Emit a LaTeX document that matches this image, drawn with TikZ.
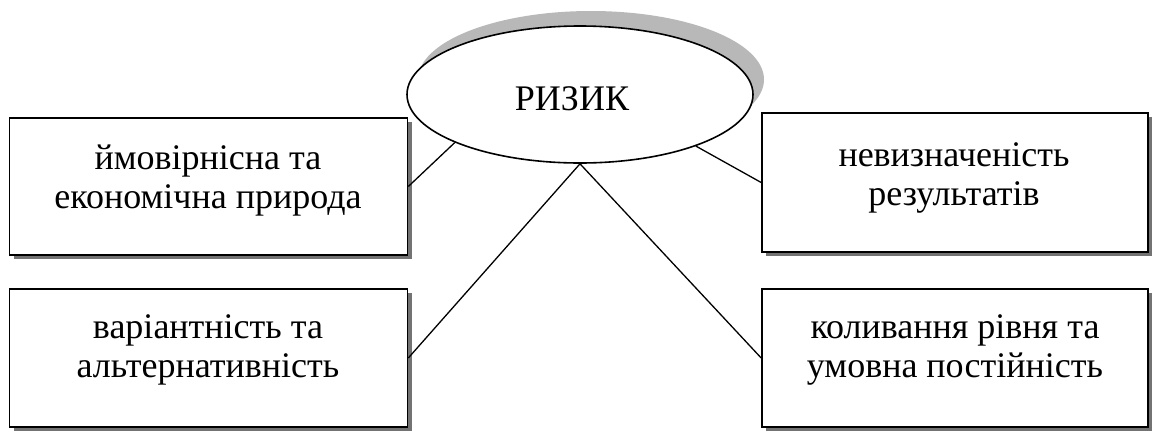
\documentclass[tikz,border=0pt]{standalone}
\usepackage{fontspec}
\setmainfont{Liberation Serif}
\usetikzlibrary{shapes.geometric,shadows}

\tikzset{
  box/.style={draw, line width=1.6pt, fill=white, rectangle, inner sep=0pt,
    drop shadow={shadow xshift=4pt, shadow yshift=-4pt, fill=black!55, opacity=1}},
  oval/.style={draw, line width=1.6pt, fill=white, ellipse, inner sep=0pt,
    minimum width=346pt, minimum height=137pt,
    drop shadow={shadow xshift=11pt, shadow yshift=15pt, fill=black!28, opacity=1}},
  txt/.style={align=center, font=\fontsize{36}{42}\selectfont, inner sep=0pt},
  link/.style={line width=1.3pt},
}

\begin{document}
\begin{tikzpicture}[x=1pt, y=-1pt]
  \useasboundingbox (0,0) rectangle (1157,432);

  % central concept
  \node[oval] (risk) at (580,94.5) {};
  \node[txt, anchor=base] (risklbl) at (572,110) {РИЗИК};

  % four feature boxes
  \node[box, minimum width=398pt, minimum height=137pt] (tl) at (208.5,186.5) {};
  \node[box, minimum width=398pt, minimum height=138pt] (bl) at (208.5,358) {};
  \node[box, minimum width=386pt, minimum height=139pt] (tr) at (955,182.5) {};
  \node[box, minimum width=386pt, minimum height=138pt] (br) at (955,358) {};

  \node[txt, anchor=base] (tl1) at (208,169) {ймовірнісна та};
  \node[txt, anchor=base] (tl2) at (208,208) {економічна природа};
  \node[txt, anchor=base] (bl1) at (208,338) {варіантність та};
  \node[txt, anchor=base] (bl2) at (208,377) {альтернативність};
  \node[txt, anchor=base] (tr1) at (954,166) {невизначеність};
  \node[txt, anchor=base] (tr2) at (954,205) {результатів};
  \node[txt, anchor=base] (br1) at (955,338) {коливання рівня та};
  \node[txt, anchor=base] (br2) at (955,377) {умовна постійність};

  % connectors
  \draw[link] (risk.201.3) -- (tl.east);
  \draw[link] (risk.336.9) -- (tr.west);
  \draw[link] (risk.south) -- (bl.east);
  \draw[link] (risk.south) -- (br.west);
\end{tikzpicture}
\end{document}
